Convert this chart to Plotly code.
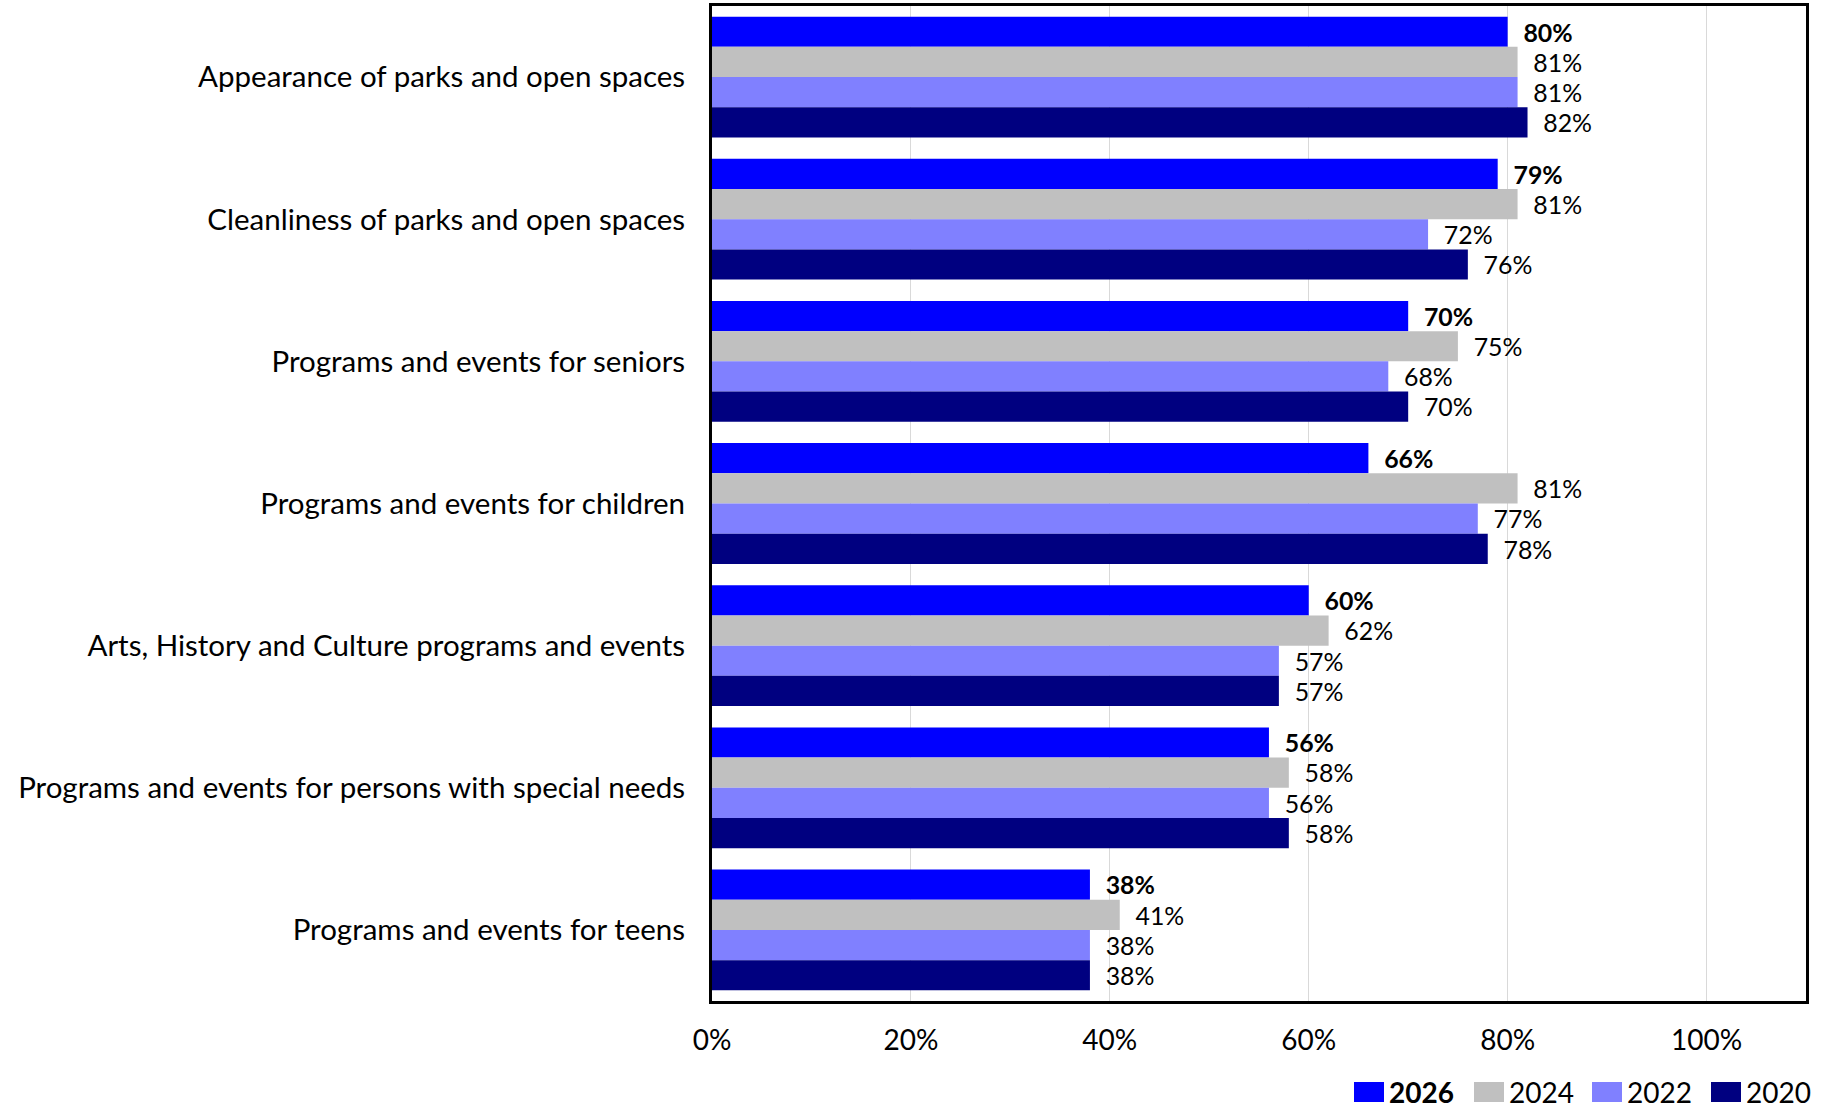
import plotly.graph_objects as go

categories = [
    "Appearance of parks and open spaces",
    "Cleanliness of parks and open spaces",
    "Programs and events for seniors",
    "Programs and events for children",
    "Arts, History and Culture programs and events",
    "Programs and events for persons with special needs",
    "Programs and events for teens",
]

years = ["2026", "2024", "2022", "2020"]
values_2026 = [80, 79, 70, 66, 60, 56, 38]
values_2024 = [81, 81, 75, 81, 62, 58, 41]
values_2022 = [81, 72, 68, 77, 57, 56, 38]
values_2020 = [82, 76, 70, 78, 57, 58, 38]
x_ticks = [0, 20, 40, 60, 80, 100]

series = [values_2026, values_2024, values_2022, values_2020]
colors = ["#0000FF", "#C0C0C0", "#8080FF", "#000080"]

FONT = "Lato"
W, H = 1826, 1108
M_L, M_R, M_T, M_B = 712, 20, 6, 107
PLOT_W = W - M_L - M_R
PLOT_H = H - M_T - M_B

fig = go.Figure()
for year, vals, color in zip(years, series, colors):
    bold = year == "2026"
    pad = "\u00a0\u00a0"
    labels = [(pad + "<b>%d%%</b>" if bold else pad + "%d%%") % v for v in vals]
    fig.add_trace(go.Bar(
        y=categories,
        x=[v / 100 for v in vals],
        orientation="h",
        name=year,
        marker=dict(color=color, line=dict(width=0)),
        text=labels,
        textposition="outside",
        textfont=dict(family=FONT, size=28, color="black"),
        cliponaxis=False,
        showlegend=False,
    ))

# Legend drawn below the plot, right-aligned: swatch rectangles plus year text
def px_to_paper_x(px):
    return (px - M_L) / PLOT_W

def px_to_paper_y(py):
    return (H - M_B - py) / PLOT_H

legend_x = [1354, 1474, 1592, 1711]
sw_w, sw_top, sw_bot = 30, 1082, 1102
shapes = []
annotations = []
for year, color, lx in zip(years, colors, legend_x):
    shapes.append(dict(
        type="rect", xref="paper", yref="paper",
        x0=px_to_paper_x(lx), x1=px_to_paper_x(lx + sw_w),
        y0=px_to_paper_y(sw_bot), y1=px_to_paper_y(sw_top),
        fillcolor=color, line=dict(width=0),
    ))
    annotations.append(dict(
        xref="paper", yref="paper",
        x=px_to_paper_x(lx + sw_w + 4), y=px_to_paper_y((sw_top + sw_bot) / 2),
        xanchor="left", yanchor="middle",
        text=("<b>%s</b>" % year) if year == "2026" else year,
        showarrow=False,
        borderpad=0,
        font=dict(family=FONT, size=28, color="black"),
    ))

fig.update_layout(
    width=W,
    height=H,
    margin=dict(l=M_L, r=M_R, t=M_T, b=M_B, autoexpand=False),
    paper_bgcolor="white",
    plot_bgcolor="white",
    barmode="group",
    bargap=0.15,
    bargroupgap=0,
    font=dict(family=FONT, size=28, color="black"),
    showlegend=False,
    shapes=shapes,
    annotations=annotations,
    xaxis=dict(
        range=[0, 1.1],
        tickvals=[t / 100 for t in x_ticks],
        ticktext=["%d%%" % t for t in x_ticks],
        showgrid=True,
        gridcolor="#D9D9D9",
        gridwidth=1,
        zeroline=False,
        showline=True,
        linecolor="black",
        linewidth=3,
        mirror=True,
        ticks="",
        ticklabelstandoff=12,
        tickfont=dict(family=FONT, size=28),
    ),
    yaxis=dict(
        autorange="reversed",
        showline=True,
        linecolor="black",
        linewidth=3,
        mirror=True,
        ticks="",
        ticklabelstandoff=18,
        tickfont=dict(family=FONT, size=29.5),
    ),
)

fig.write_html("out.html")
